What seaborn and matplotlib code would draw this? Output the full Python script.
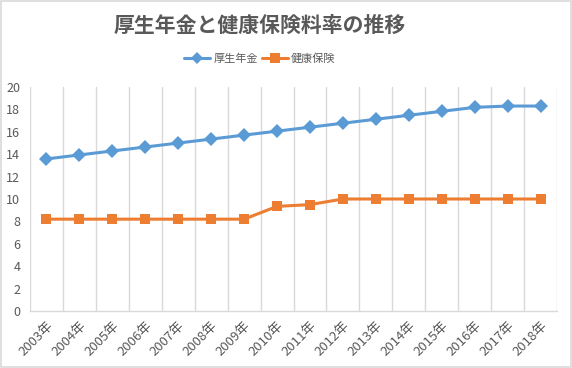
import matplotlib
matplotlib.use("Agg")
import matplotlib.pyplot as plt
import seaborn as sns
import pandas as pd
import numpy as np

years = [f"{y}年" for y in range(2003, 2019)]
pension = [13.58, 13.934, 14.288, 14.642, 14.996, 15.35, 15.704, 16.058,
           16.412, 16.766, 17.12, 17.474, 17.828, 18.182, 18.3, 18.3]
health = [8.2, 8.2, 8.2, 8.2, 8.2, 8.2, 8.2, 9.34,
          9.5, 10.0, 10.0, 10.0, 10.0, 10.0, 10.0, 10.0]
series_names = ["厚生年金", "健康保険"]
colors = ["#5B9BD5", "#ED7D31"]
yticks = list(range(0, 21, 2))
title = "厚生年金と健康保険料率の推移"

sns.set_theme(style="white")
plt.rcParams['font.family'] = ['Noto Sans CJK JP', 'DejaVu Sans']

df = pd.DataFrame({
    "idx": list(range(len(years))) * 2,
    "value": pension + health,
    "series": [series_names[0]] * len(years) + [series_names[1]] * len(years),
})

fig = plt.figure(figsize=(5.72, 3.68), dpi=100)
fig.patch.set_facecolor("white")
ax = fig.add_axes([30/572, 1-311/368, (557-30)/572, (311-87)/368])

sns.lineplot(data=df, x="idx", y="value", hue="series", style="series",
             markers=["D", "s"], dashes=False, palette=colors,
             linewidth=2.2, markersize=7.5, markeredgewidth=0, ax=ax, legend=False)

ax.set_xlim(-0.5, len(years) - 0.5)
ax.set_ylim(0, 20)
ax.set_yticks(yticks)
ax.set_yticklabels([str(v) for v in yticks], color="#595959", fontsize=9)
ax.set_xticks(range(len(years)))
ax.set_xticklabels(years, rotation=45, ha="right", va="top",
                   rotation_mode="anchor", color="#595959", fontsize=9.5)
ax.set_xticks(np.arange(-0.5, len(years), 1), minor=True)
ax.grid(False)
ax.grid(True, which="minor", axis="x", color="#D9D9D9", linewidth=1)
ax.tick_params(axis="both", which="both", length=0)
ax.tick_params(axis="y", pad=7)
ax.tick_params(axis="x", pad=6)
ax.set_xlabel("")
ax.set_ylabel("")
for s in ["top", "right", "left"]:
    ax.spines[s].set_visible(False)
ax.spines["bottom"].set_color("#D9D9D9")
ax.spines["bottom"].set_linewidth(1)

fig.text(260/572, 1 - 25/368, title, ha="center", va="center",
         fontsize=15, fontweight="bold", color="#595959")

from matplotlib.lines import Line2D
handles = [Line2D([0], [0], color=colors[0], marker="D", lw=2.2, markersize=6.5, markeredgewidth=0),
           Line2D([0], [0], color=colors[1], marker="s", lw=2.2, markersize=7.5, markeredgewidth=0)]
fig.legend(handles, series_names, loc="center", bbox_to_anchor=(260/572, 1 - 59/368),
           ncol=2, frameon=False, fontsize=8, handlelength=2.3, handletextpad=0.3,
           columnspacing=0.4, labelcolor="#595959")

fig.patches.append(plt.Rectangle((0.001, 0.002), 0.997, 0.995, transform=fig.transFigure,
                                 fill=False, edgecolor="#D9D9D9", linewidth=1.2))

fig.savefig("out.png", dpi=100, facecolor="white")
